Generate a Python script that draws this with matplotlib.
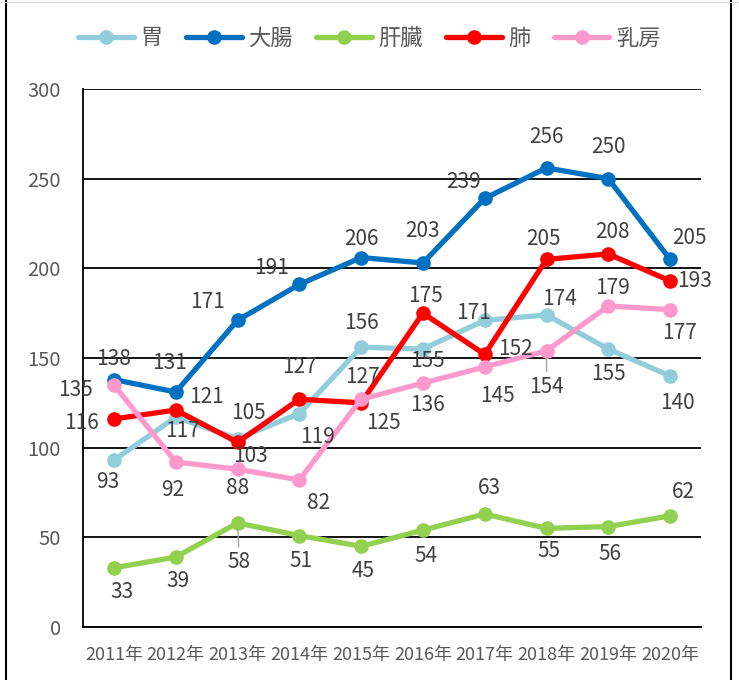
import matplotlib
matplotlib.use('Agg')
import matplotlib.pyplot as plt
from matplotlib.lines import Line2D

plt.rcParams['font.family'] = ['Noto Sans CJK JP', 'DejaVu Sans']

# data
years = ['2011年', '2012年', '2013年', '2014年', '2015年',
         '2016年', '2017年', '2018年', '2019年', '2020年']
names = ['胃', '大腸', '肝臓', '肺', '乳房']
stomach = [93, 117, 105, 119, 156, 155, 171, 174, 155, 140]
colon = [138, 131, 171, 191, 206, 203, 239, 256, 250, 205]
liver = [33, 39, 58, 51, 45, 54, 63, 55, 56, 62]
lung = [116, 121, 103, 127, 125, 175, 152, 205, 208, 193]
breast = [135, 92, 88, 82, 127, 136, 145, 154, 179, 177]

colors = ['#92CDDC', '#0070C0', '#92D050', '#FF0000', '#FF99CC']

# label offsets in pixels (dx, dy), placed like the Excel original
offsets = [
    [(-6, -22), (7, -14), (11, 26), (18, -23), (0, 24), (5, -12), (-11, 7), (13, 16), (0, -25), (7, -27)],
    [(0, 21), (-6, 29), (-30, 18), (-28, 16), (0, 19), (0, 32), (-21, 16), (0, 31), (0, 32), (19, 21)],
    [(8, -24), (2, -24), (2, -39), (2, -25), (2, -25), (3, -26), (5, 26), (2, -23), (2, -27), (13, 24)],
    [(-32, -4), (31, 13), (13, -14), (0, 32), (22, -20), (3, 17), (31, 5), (-3, 20), (4, 22), (24, 0)],
    [(-38, -5), (-3, -28), (0, -19), (19, -23), (1, 22), (5, -22), (13, -29), (0, -36), (4, 18), (9, -23)],
]
# labels that get a grey leader line: (series index, point index)
leaders = [(2, 2), (4, 7)]

series = [stomach, colon, liver, lung, breast]

fig = plt.figure(figsize=(7.39, 6.80), dpi=100)
ax = fig.add_axes([83 / 739, 1 - 627 / 680, (701 - 83) / 739, (627 - 89) / 680])

x = list(range(len(years)))
for k, vals in enumerate(series):
    ax.plot(x, vals, color=colors[k], lw=3.8, marker='o', ms=9.5,
            label=names[k], solid_capstyle='round', zorder=3 + k)
    for i, v in enumerate(vals):
        arrow = None
        if (k, i) in leaders:
            arrow = dict(arrowstyle='-', color='#A6A6A6', lw=1, shrinkA=1, shrinkB=5)
        ax.annotate(str(v), (i, v), xytext=offsets[k][i], textcoords='offset pixels',
                    ha='center', va='center', fontsize=15, color='#404040',
                    zorder=20, arrowprops=arrow)

ax.set_xlim(-0.5, 9.5)
ax.set_ylim(0, 300)
ax.set_xticks(x)
ax.set_xticklabels(years)
ax.set_yticks(range(0, 301, 50))
ax.grid(axis='y', color='black', lw=1.3)
ax.set_axisbelow(True)
for s in ['top', 'right']:
    ax.spines[s].set_visible(False)
ax.spines['left'].set_color('black')
ax.spines['left'].set_linewidth(1.3)
ax.spines['bottom'].set_color('black')
ax.spines['bottom'].set_linewidth(1.3)
ax.tick_params(axis='y', length=0, pad=16, labelsize=14.5, labelcolor='#595959')
ax.tick_params(axis='x', length=0, pad=14, labelsize=13, labelcolor='#595959')

fig.legend(loc='center', bbox_to_anchor=(0.5, 1 - 38 / 680), ncol=5, frameon=False,
           fontsize=16, handlelength=2.5, handletextpad=0.31, columnspacing=1.04,
           labelcolor='#595959')

# outer frame of the chart area
fig.add_artist(Line2D([6 / 739, 6 / 739], [0, 1], transform=fig.transFigure, color='black', lw=1.5))
fig.add_artist(Line2D([731 / 739, 731 / 739], [0, 1], transform=fig.transFigure, color='black', lw=1.5))
fig.add_artist(Line2D([0, 1], [1 - 1.5 / 680, 1 - 1.5 / 680], transform=fig.transFigure, color='#D9D9D9', lw=1))

fig.savefig('out.png', dpi=100)
